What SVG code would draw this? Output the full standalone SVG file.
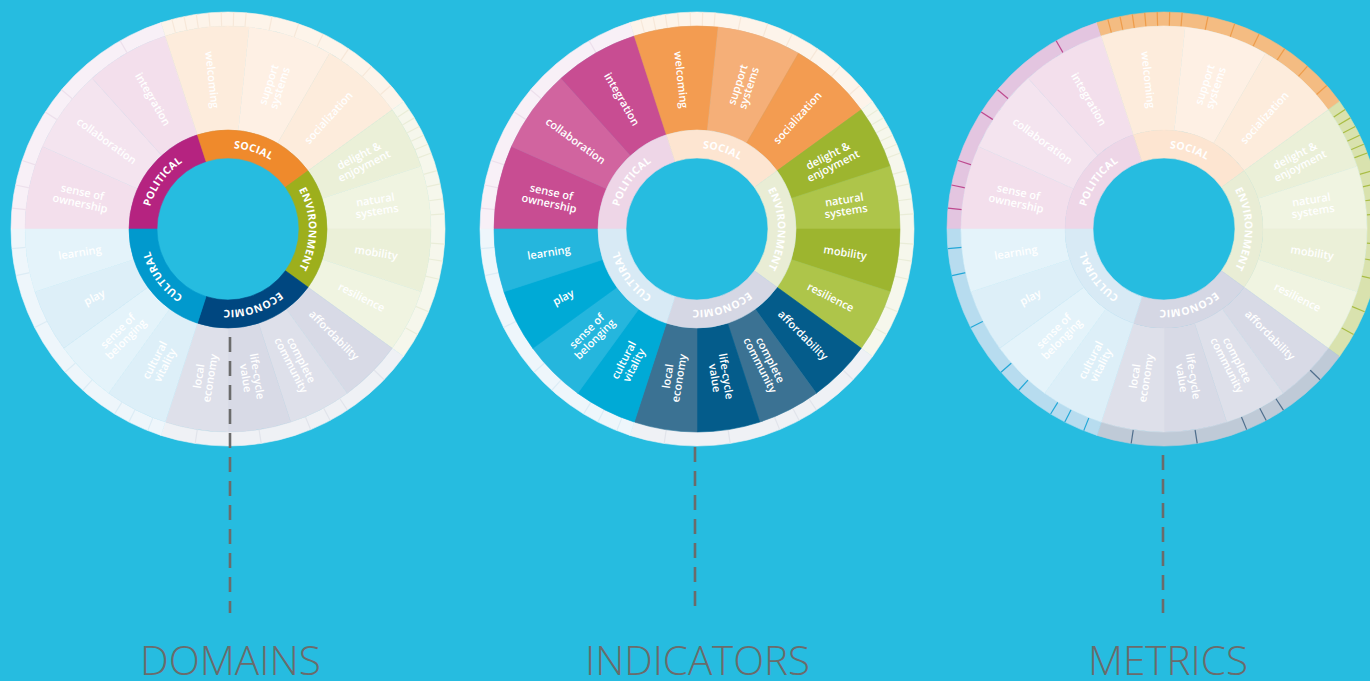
<svg xmlns="http://www.w3.org/2000/svg" xmlns:xlink="http://www.w3.org/1999/xlink" width="1370" height="681" viewBox="0 0 1370 681">
<style>
  .bg{fill:#26bce0}
  use{stroke-width:.6}
  use.tk{stroke-width:1.2;fill:none}
  .lbl{font-family:"Open Sans","Liberation Sans",sans-serif;font-size:11px;font-weight:600;fill:#fff;text-anchor:middle}
  .dom{font-family:"Open Sans","Liberation Sans",sans-serif;font-size:10.5px;font-weight:700;fill:#fff;text-anchor:middle;letter-spacing:.3px}
  .ttl{font-family:"Open Sans","Liberation Sans",sans-serif;font-weight:300;font-size:41px;fill:#6b6b6b;text-anchor:middle}
  .cn{stroke:#6b6b6b;stroke-width:2.6;stroke-dasharray:15 9;fill:none}
  /* full-colour indicator wedges */
  .m1{fill:#c84d92;stroke:#c84d92}.m2{fill:#d1649f;stroke:#d1649f}
  .o1{fill:#f39c51;stroke:#f39c51}.o2{fill:#f5af78;stroke:#f5af78}
  .g1{fill:#9db52f;stroke:#9db52f}.g2{fill:#aec54a;stroke:#aec54a}
  .n1{fill:#045c8b;stroke:#045c8b}.n2{fill:#3b7293;stroke:#3b7293}
  .c1{fill:#00aad6;stroke:#00aad6}.c2{fill:#25b6dd;stroke:#25b6dd}
  /* pale indicator wedges */
  .pm1{fill:#f3dfec;stroke:#f3dfec}.pm2{fill:#f4e4ef;stroke:#f4e4ef}
  .po1{fill:#fdecdc;stroke:#fdecdc}.po2{fill:#fef0e4;stroke:#fef0e4}
  .pg1{fill:#ebf0d8;stroke:#ebf0d8}.pg2{fill:#f0f4e1;stroke:#f0f4e1}
  .pn1{fill:#d8dae6;stroke:#d8dae6}.pn2{fill:#dee0ea;stroke:#dee0ea}
  .pc1{fill:#ddeff8;stroke:#ddeff8}.pc2{fill:#e4f3fa;stroke:#e4f3fa}
  /* full-colour domain ring */
  .dP{fill:#b52380;stroke:#b52380}.dS{fill:#ef8a2c;stroke:#ef8a2c}.dE{fill:#9daf1c;stroke:#9daf1c}
  .dN{fill:#004780;stroke:#004780}.dC{fill:#0199cd;stroke:#0199cd}
  /* pale domain ring */
  .eP{fill:#eed6e7;stroke:#eed6e7}.eS{fill:#fde5d1;stroke:#fde5d1}.eE{fill:#e9edd5;stroke:#e9edd5}
  .eN{fill:#d5d7e4;stroke:#d5d7e4}.eC{fill:#d8eaf5;stroke:#d8eaf5}
  /* pale outer (metric) ring */
  .rP{fill:#f8f0f7;stroke:#f8f0f7}.rS{fill:#fdf4ea;stroke:#fdf4ea}.rE{fill:#f6f7ec;stroke:#f6f7ec}
  .rN{fill:#eff1f5;stroke:#eff1f5}.rC{fill:#eef6fb;stroke:#eef6fb}
  .fP{stroke:#ede0ec}.fS{stroke:#f7e8d9}.fE{stroke:#eaedd8}.fN{stroke:#e1e4eb}.fC{stroke:#dcecf5}
  /* coloured metric ring */
  .xP{fill:#e3c5e0;stroke:#e3c5e0}.xS{fill:#f4bc82;stroke:#f4bc82}.xE{fill:#d9e2ae;stroke:#d9e2ae}
  .xN{fill:#bfcad7;stroke:#bfcad7}.xC{fill:#b7dcef;stroke:#b7dcef}
  .tP{stroke:#bd4a8f}.tS{stroke:#ee9c4a}.tE{stroke:#a9bd45}.tN{stroke:#4f6e8c}.tC{stroke:#22a7d7}
</style>
<defs>
  <!-- outer metric ring sectors, r 203..217 -->
  <path id="oP" d="M-217 0A217 217 0 0 1-67.06-206.38L-62.73-193.07A203 203 0 0 0-203 0Z"/>
  <path id="oS" d="M-67.06-206.38A217 217 0 0 1 175.56-127.55L164.23-119.32A203 203 0 0 0-62.73-193.07Z"/>
  <path id="oE" d="M175.56-127.55A217 217 0 0 1 175.56 127.55L164.23 119.32A203 203 0 0 0 164.23-119.32Z"/>
  <path id="oN" d="M175.56 127.55A217 217 0 0 1-67.06 206.38L-62.73 193.07A203 203 0 0 0 164.23 119.32Z"/>
  <path id="oC" d="M-67.06 206.38A217 217 0 0 1-217 0L-203 0A203 203 0 0 0-62.73 193.07Z"/>
  <!-- domain ring sectors, r 71..99 -->
  <path id="sP" d="M-99 0A99 99 0 0 1-30.59-94.15L-21.94-67.53A71 71 0 0 0-71 0Z"/>
  <path id="sS" d="M-30.59-94.15A99 99 0 0 1 80.09-58.19L57.44-41.73A71 71 0 0 0-21.94-67.53Z"/>
  <path id="sE" d="M80.09-58.19A99 99 0 0 1 80.09 58.19L57.44 41.73A71 71 0 0 0 57.44-41.73Z"/>
  <path id="sN" d="M80.09 58.19A99 99 0 0 1-30.59 94.15L-21.94 67.53A71 71 0 0 0 57.44 41.73Z"/>
  <path id="sC" d="M-30.59 94.15A99 99 0 0 1-99 0L-71 0A71 71 0 0 0-21.94 67.53Z"/>
  <!-- indicator wedges, r 99..203 -->
  <path id="i1" d="M-203 0A203 203 0 0 1-185.45-82.57L-90.44-40.27A99 99 0 0 0-99 0Z"/>
  <path id="i2" d="M-185.45-82.57A203 203 0 0 1-135.83-150.86L-66.24-73.57A99 99 0 0 0-90.44-40.27Z"/>
  <path id="i3" d="M-135.83-150.86A203 203 0 0 1-62.73-193.07L-30.59-94.15A99 99 0 0 0-66.24-73.57Z"/>
  <path id="i4" d="M-62.73-193.07A203 203 0 0 1 21.22-201.89L10.35-98.46A99 99 0 0 0-30.59-94.15Z"/>
  <path id="i5" d="M21.22-201.89A203 203 0 0 1 101.5-175.8L49.5-85.74A99 99 0 0 0 10.35-98.46Z"/>
  <path id="i6" d="M101.5-175.8A203 203 0 0 1 164.23-119.32L80.09-58.19A99 99 0 0 0 49.5-85.74Z"/>
  <path id="i7" d="M164.23-119.32A203 203 0 0 1 193.07-62.73L94.15-30.59A99 99 0 0 0 80.09-58.19Z"/>
  <path id="i8" d="M193.07-62.73A203 203 0 0 1 203 0L99 0A99 99 0 0 0 94.15-30.59Z"/>
  <path id="i9" d="M203 0A203 203 0 0 1 193.07 62.73L94.15 30.59A99 99 0 0 0 99 0Z"/>
  <path id="i10" d="M193.07 62.73A203 203 0 0 1 164.23 119.32L80.09 58.19A99 99 0 0 0 94.15 30.59Z"/>
  <path id="i11" d="M164.23 119.32A203 203 0 0 1 119.32 164.23L58.19 80.09A99 99 0 0 0 80.09 58.19Z"/>
  <path id="i12" d="M119.32 164.23A203 203 0 0 1 62.73 193.07L30.59 94.15A99 99 0 0 0 58.19 80.09Z"/>
  <path id="i13" d="M62.73 193.07A203 203 0 0 1 0 203L0 99A99 99 0 0 0 30.59 94.15Z"/>
  <path id="i14" d="M0 203A203 203 0 0 1-62.73 193.07L-30.59 94.15A99 99 0 0 0 0 99Z"/>
  <path id="i15" d="M-62.73 193.07A203 203 0 0 1-119.32 164.23L-58.19 80.09A99 99 0 0 0-30.59 94.15Z"/>
  <path id="i16" d="M-119.32 164.23A203 203 0 0 1-164.23 119.32L-80.09 58.19A99 99 0 0 0-58.19 80.09Z"/>
  <path id="i17" d="M-164.23 119.32A203 203 0 0 1-193.07 62.73L-94.15 30.59A99 99 0 0 0-80.09 58.19Z"/>
  <path id="i18" d="M-193.07 62.73A203 203 0 0 1-203 0L-99 0A99 99 0 0 0-94.15 30.59Z"/>
  <!-- metric divisions on the outer ring -->
  <g id="kP">
    <line x1="203" x2="217" transform="rotate(-119.8)"/><line x1="203" x2="217" transform="rotate(-140.1)"/>
    <line x1="203" x2="217" transform="rotate(-147.4)"/><line x1="203" x2="217" transform="rotate(-161.6)"/>
    <line x1="203" x2="217" transform="rotate(-168.3)"/><line x1="203" x2="217" transform="rotate(-174.5)"/>
  </g>
  <g id="kS">
    <line x1="203" x2="217" transform="rotate(-105)"/><line x1="203" x2="217" transform="rotate(-101.7)"/>
    <line x1="203" x2="217" transform="rotate(-98.4)"/><line x1="203" x2="217" transform="rotate(-95.1)"/>
    <line x1="203" x2="217" transform="rotate(-91.8)"/><line x1="203" x2="217" transform="rotate(-88.5)"/>
    <line x1="203" x2="217" transform="rotate(-85.2)"/><line x1="203" x2="217" transform="rotate(-78.3)"/>
    <line x1="203" x2="217" transform="rotate(-71)"/><line x1="203" x2="217" transform="rotate(-64)"/>
    <line x1="203" x2="217" transform="rotate(-56.2)"/><line x1="203" x2="217" transform="rotate(-48.6)"/>
    <line x1="203" x2="217" transform="rotate(-41.4)"/>
  </g>
  <g id="kE">
    <line x1="203" x2="217" transform="rotate(-33.4)"/><line x1="203" x2="217" transform="rotate(-30.8)"/>
    <line x1="203" x2="217" transform="rotate(-28.2)"/><line x1="203" x2="217" transform="rotate(-25.6)"/>
    <line x1="203" x2="217" transform="rotate(-23)"/><line x1="203" x2="217" transform="rotate(-20.5)"/>
    <line x1="203" x2="217" transform="rotate(-15.6)"/><line x1="203" x2="217" transform="rotate(-12)"/>
    <line x1="203" x2="217" transform="rotate(-8)"/><line x1="203" x2="217" transform="rotate(-4)"/>
    <line x1="203" x2="217" transform="rotate(4)"/><line x1="203" x2="217" transform="rotate(8.5)"/>
    <line x1="203" x2="217" transform="rotate(13.4)"/><line x1="203" x2="217" transform="rotate(22.4)"/>
    <line x1="203" x2="217" transform="rotate(29.1)"/>
  </g>
  <g id="kN">
    <line x1="203" x2="217" transform="rotate(44)"/><line x1="203" x2="217" transform="rotate(56.6)"/>
    <line x1="203" x2="217" transform="rotate(61.9)"/><line x1="203" x2="217" transform="rotate(67.6)"/>
    <line x1="203" x2="217" transform="rotate(81.2)"/><line x1="203" x2="217" transform="rotate(98.7)"/>
  </g>
  <g id="kC">
    <line x1="203" x2="217" transform="rotate(111.7)"/><line x1="203" x2="217" transform="rotate(117.2)"/>
    <line x1="203" x2="217" transform="rotate(121.5)"/><line x1="203" x2="217" transform="rotate(132)"/>
    <line x1="203" x2="217" transform="rotate(138.7)"/><line x1="203" x2="217" transform="rotate(153)"/>
    <line x1="203" x2="217" transform="rotate(167.6)"/><line x1="203" x2="217" transform="rotate(174.8)"/>
  </g>
  <!-- clockwise circle for the domain names, starting at the left -->
  <path id="dring" d="M-81 0A81 81 0 1 1 81 0A81 81 0 1 1-81 0"/>
</defs>

<rect class="bg" x="0" y="0" width="1370" height="681"/>

<!-- ===== wheel 1 : domains highlighted ===== -->
<g id="wheel-domains" transform="translate(228,229)">
  <g id="w1-political">
    <use href="#oP" class="rP"/><use href="#kP" class="tk fP"/>
    <use href="#i1" class="pm1"/><use href="#i2" class="pm2"/><use href="#i3" class="pm1"/>
    <use href="#sP" class="dP"/>
    <text class="lbl" transform="rotate(12) translate(-150,0)"><tspan x="0" y="-2">sense of</tspan><tspan x="0" y="9.5">ownership</tspan></text>
    <text class="lbl" transform="rotate(36) translate(-150,0)" y="4">collaboration</text>
    <text class="lbl" transform="rotate(60) translate(-150,0)" y="4">integration</text>
    <text class="dom"><textPath href="#dring" startOffset="10%">POLITICAL</textPath></text>
  </g>
  <g id="w1-social">
    <use href="#oS" class="rS"/><use href="#kS" class="tk fS"/>
    <use href="#i4" class="po1"/><use href="#i5" class="po2"/><use href="#i6" class="po1"/>
    <use href="#sS" class="dS"/>
    <text class="lbl" transform="rotate(84) translate(-150,0)" y="4">welcoming</text>
    <text class="lbl" transform="rotate(-72) translate(150,0)"><tspan x="0" y="-2">support</tspan><tspan x="0" y="9.5">systems</tspan></text>
    <text class="lbl" transform="rotate(-48) translate(150,0)" y="4">socialization</text>
    <text class="dom"><textPath href="#dring" startOffset="30%">SOCIAL</textPath></text>
  </g>
  <g id="w1-environment">
    <use href="#oE" class="rE"/><use href="#kE" class="tk fE"/>
    <use href="#i7" class="pg1"/><use href="#i8" class="pg2"/><use href="#i9" class="pg1"/><use href="#i10" class="pg2"/>
    <use href="#sE" class="dE"/>
    <text class="lbl" transform="rotate(-27) translate(150,0)"><tspan x="0" y="-2">delight &amp;</tspan><tspan x="0" y="9.5">enjoyment</tspan></text>
    <text class="lbl" transform="rotate(-9) translate(150,0)"><tspan x="0" y="-2">natural</tspan><tspan x="0" y="9.5">systems</tspan></text>
    <text class="lbl" transform="rotate(9) translate(150,0)" y="4">mobility</text>
    <text class="lbl" transform="rotate(27) translate(150,0)" y="4">resilience</text>
    <text class="dom"><textPath href="#dring" startOffset="50%">ENVIRONMENT</textPath></text>
  </g>
  <g id="w1-economic">
    <use href="#oN" class="rN"/><use href="#kN" class="tk fN"/>
    <use href="#i11" class="pn1"/><use href="#i12" class="pn2"/><use href="#i13" class="pn1"/><use href="#i14" class="pn2"/>
    <use href="#sN" class="dN"/>
    <text class="lbl" transform="rotate(45) translate(150,0)" y="4">affordability</text>
    <text class="lbl" transform="rotate(63) translate(150,0)"><tspan x="0" y="-2">complete</tspan><tspan x="0" y="9.5">community</tspan></text>
    <text class="lbl" transform="rotate(81) translate(150,0)"><tspan x="0" y="-2">life-cycle</tspan><tspan x="0" y="9.5">value</tspan></text>
    <text class="lbl" transform="rotate(-81) translate(-150,0)"><tspan x="0" y="-2">local</tspan><tspan x="0" y="9.5">economy</tspan></text>
    <text class="dom"><textPath href="#dring" startOffset="70%">ECONOMIC</textPath></text>
  </g>
  <g id="w1-cultural">
    <use href="#oC" class="rC"/><use href="#kC" class="tk fC"/>
    <use href="#i15" class="pc1"/><use href="#i16" class="pc2"/><use href="#i17" class="pc1"/><use href="#i18" class="pc2"/>
    <use href="#sC" class="dC"/>
    <text class="lbl" transform="rotate(-63) translate(-150,0)"><tspan x="0" y="-2">cultural</tspan><tspan x="0" y="9.5">vitality</tspan></text>
    <text class="lbl" transform="rotate(-45) translate(-150,0)"><tspan x="0" y="-2">sense of</tspan><tspan x="0" y="9.5">belonging</tspan></text>
    <text class="lbl" transform="rotate(-27) translate(-150,0)" y="4">play</text>
    <text class="lbl" transform="rotate(-9) translate(-150,0)" y="4">learning</text>
    <text class="dom"><textPath href="#dring" startOffset="90%">CULTURAL</textPath></text>
  </g>
</g>

<!-- ===== wheel 2 : indicators highlighted ===== -->
<g id="wheel-indicators" transform="translate(697,229)">
  <g id="w2-political">
    <use href="#oP" class="rP"/><use href="#kP" class="tk fP"/>
    <use href="#i1" class="m1"/><use href="#i2" class="m2"/><use href="#i3" class="m1"/>
    <use href="#sP" class="eP"/>
    <text class="lbl" transform="rotate(12) translate(-150,0)"><tspan x="0" y="-2">sense of</tspan><tspan x="0" y="9.5">ownership</tspan></text>
    <text class="lbl" transform="rotate(36) translate(-150,0)" y="4">collaboration</text>
    <text class="lbl" transform="rotate(60) translate(-150,0)" y="4">integration</text>
    <text class="dom"><textPath href="#dring" startOffset="10%">POLITICAL</textPath></text>
  </g>
  <g id="w2-social">
    <use href="#oS" class="rS"/><use href="#kS" class="tk fS"/>
    <use href="#i4" class="o1"/><use href="#i5" class="o2"/><use href="#i6" class="o1"/>
    <use href="#sS" class="eS"/>
    <text class="lbl" transform="rotate(84) translate(-150,0)" y="4">welcoming</text>
    <text class="lbl" transform="rotate(-72) translate(150,0)"><tspan x="0" y="-2">support</tspan><tspan x="0" y="9.5">systems</tspan></text>
    <text class="lbl" transform="rotate(-48) translate(150,0)" y="4">socialization</text>
    <text class="dom"><textPath href="#dring" startOffset="30%">SOCIAL</textPath></text>
  </g>
  <g id="w2-environment">
    <use href="#oE" class="rE"/><use href="#kE" class="tk fE"/>
    <use href="#i7" class="g1"/><use href="#i8" class="g2"/><use href="#i9" class="g1"/><use href="#i10" class="g2"/>
    <use href="#sE" class="eE"/>
    <text class="lbl" transform="rotate(-27) translate(150,0)"><tspan x="0" y="-2">delight &amp;</tspan><tspan x="0" y="9.5">enjoyment</tspan></text>
    <text class="lbl" transform="rotate(-9) translate(150,0)"><tspan x="0" y="-2">natural</tspan><tspan x="0" y="9.5">systems</tspan></text>
    <text class="lbl" transform="rotate(9) translate(150,0)" y="4">mobility</text>
    <text class="lbl" transform="rotate(27) translate(150,0)" y="4">resilience</text>
    <text class="dom"><textPath href="#dring" startOffset="50%">ENVIRONMENT</textPath></text>
  </g>
  <g id="w2-economic">
    <use href="#oN" class="rN"/><use href="#kN" class="tk fN"/>
    <use href="#i11" class="n1"/><use href="#i12" class="n2"/><use href="#i13" class="n1"/><use href="#i14" class="n2"/>
    <use href="#sN" class="eN"/>
    <text class="lbl" transform="rotate(45) translate(150,0)" y="4">affordability</text>
    <text class="lbl" transform="rotate(63) translate(150,0)"><tspan x="0" y="-2">complete</tspan><tspan x="0" y="9.5">community</tspan></text>
    <text class="lbl" transform="rotate(81) translate(150,0)"><tspan x="0" y="-2">life-cycle</tspan><tspan x="0" y="9.5">value</tspan></text>
    <text class="lbl" transform="rotate(-81) translate(-150,0)"><tspan x="0" y="-2">local</tspan><tspan x="0" y="9.5">economy</tspan></text>
    <text class="dom"><textPath href="#dring" startOffset="70%">ECONOMIC</textPath></text>
  </g>
  <g id="w2-cultural">
    <use href="#oC" class="rC"/><use href="#kC" class="tk fC"/>
    <use href="#i15" class="c1"/><use href="#i16" class="c2"/><use href="#i17" class="c1"/><use href="#i18" class="c2"/>
    <use href="#sC" class="eC"/>
    <text class="lbl" transform="rotate(-63) translate(-150,0)"><tspan x="0" y="-2">cultural</tspan><tspan x="0" y="9.5">vitality</tspan></text>
    <text class="lbl" transform="rotate(-45) translate(-150,0)"><tspan x="0" y="-2">sense of</tspan><tspan x="0" y="9.5">belonging</tspan></text>
    <text class="lbl" transform="rotate(-27) translate(-150,0)" y="4">play</text>
    <text class="lbl" transform="rotate(-9) translate(-150,0)" y="4">learning</text>
    <text class="dom"><textPath href="#dring" startOffset="90%">CULTURAL</textPath></text>
  </g>
</g>

<!-- ===== wheel 3 : metrics highlighted ===== -->
<g id="wheel-metrics" transform="translate(1164,229)">
  <g id="w3-political">
    <use href="#oP" class="xP"/><use href="#kP" class="tk tP"/>
    <use href="#i1" class="pm1"/><use href="#i2" class="pm2"/><use href="#i3" class="pm1"/>
    <use href="#sP" class="eP"/>
    <text class="lbl" transform="rotate(12) translate(-150,0)"><tspan x="0" y="-2">sense of</tspan><tspan x="0" y="9.5">ownership</tspan></text>
    <text class="lbl" transform="rotate(36) translate(-150,0)" y="4">collaboration</text>
    <text class="lbl" transform="rotate(60) translate(-150,0)" y="4">integration</text>
    <text class="dom"><textPath href="#dring" startOffset="10%">POLITICAL</textPath></text>
  </g>
  <g id="w3-social">
    <use href="#oS" class="xS"/><use href="#kS" class="tk tS"/>
    <use href="#i4" class="po1"/><use href="#i5" class="po2"/><use href="#i6" class="po1"/>
    <use href="#sS" class="eS"/>
    <text class="lbl" transform="rotate(84) translate(-150,0)" y="4">welcoming</text>
    <text class="lbl" transform="rotate(-72) translate(150,0)"><tspan x="0" y="-2">support</tspan><tspan x="0" y="9.5">systems</tspan></text>
    <text class="lbl" transform="rotate(-48) translate(150,0)" y="4">socialization</text>
    <text class="dom"><textPath href="#dring" startOffset="30%">SOCIAL</textPath></text>
  </g>
  <g id="w3-environment">
    <use href="#oE" class="xE"/><use href="#kE" class="tk tE"/>
    <use href="#i7" class="pg1"/><use href="#i8" class="pg2"/><use href="#i9" class="pg1"/><use href="#i10" class="pg2"/>
    <use href="#sE" class="eE"/>
    <text class="lbl" transform="rotate(-27) translate(150,0)"><tspan x="0" y="-2">delight &amp;</tspan><tspan x="0" y="9.5">enjoyment</tspan></text>
    <text class="lbl" transform="rotate(-9) translate(150,0)"><tspan x="0" y="-2">natural</tspan><tspan x="0" y="9.5">systems</tspan></text>
    <text class="lbl" transform="rotate(9) translate(150,0)" y="4">mobility</text>
    <text class="lbl" transform="rotate(27) translate(150,0)" y="4">resilience</text>
    <text class="dom"><textPath href="#dring" startOffset="50%">ENVIRONMENT</textPath></text>
  </g>
  <g id="w3-economic">
    <use href="#oN" class="xN"/><use href="#kN" class="tk tN"/>
    <use href="#i11" class="pn1"/><use href="#i12" class="pn2"/><use href="#i13" class="pn1"/><use href="#i14" class="pn2"/>
    <use href="#sN" class="eN"/>
    <text class="lbl" transform="rotate(45) translate(150,0)" y="4">affordability</text>
    <text class="lbl" transform="rotate(63) translate(150,0)"><tspan x="0" y="-2">complete</tspan><tspan x="0" y="9.5">community</tspan></text>
    <text class="lbl" transform="rotate(81) translate(150,0)"><tspan x="0" y="-2">life-cycle</tspan><tspan x="0" y="9.5">value</tspan></text>
    <text class="lbl" transform="rotate(-81) translate(-150,0)"><tspan x="0" y="-2">local</tspan><tspan x="0" y="9.5">economy</tspan></text>
    <text class="dom"><textPath href="#dring" startOffset="70%">ECONOMIC</textPath></text>
  </g>
  <g id="w3-cultural">
    <use href="#oC" class="xC"/><use href="#kC" class="tk tC"/>
    <use href="#i15" class="pc1"/><use href="#i16" class="pc2"/><use href="#i17" class="pc1"/><use href="#i18" class="pc2"/>
    <use href="#sC" class="eC"/>
    <text class="lbl" transform="rotate(-63) translate(-150,0)"><tspan x="0" y="-2">cultural</tspan><tspan x="0" y="9.5">vitality</tspan></text>
    <text class="lbl" transform="rotate(-45) translate(-150,0)"><tspan x="0" y="-2">sense of</tspan><tspan x="0" y="9.5">belonging</tspan></text>
    <text class="lbl" transform="rotate(-27) translate(-150,0)" y="4">play</text>
    <text class="lbl" transform="rotate(-9) translate(-150,0)" y="4">learning</text>
    <text class="dom"><textPath href="#dring" startOffset="90%">CULTURAL</textPath></text>
  </g>
</g>

<!-- dashed leaders from each wheel to its caption -->
<g id="connectors">
  <path class="cn" d="M230 337V613"/>
  <path class="cn" d="M695 447V613"/>
  <path class="cn" d="M1163 455V613"/>
</g>

<g id="caption-domains"><text class="ttl" x="230.5" y="675" textLength="181" lengthAdjust="spacingAndGlyphs">DOMAINS</text></g>
<g id="caption-indicators"><text class="ttl" x="697.5" y="675" textLength="225" lengthAdjust="spacingAndGlyphs">INDICATORS</text></g>
<g id="caption-metrics"><text class="ttl" x="1168" y="675" textLength="160" lengthAdjust="spacingAndGlyphs">METRICS</text></g>
</svg>
